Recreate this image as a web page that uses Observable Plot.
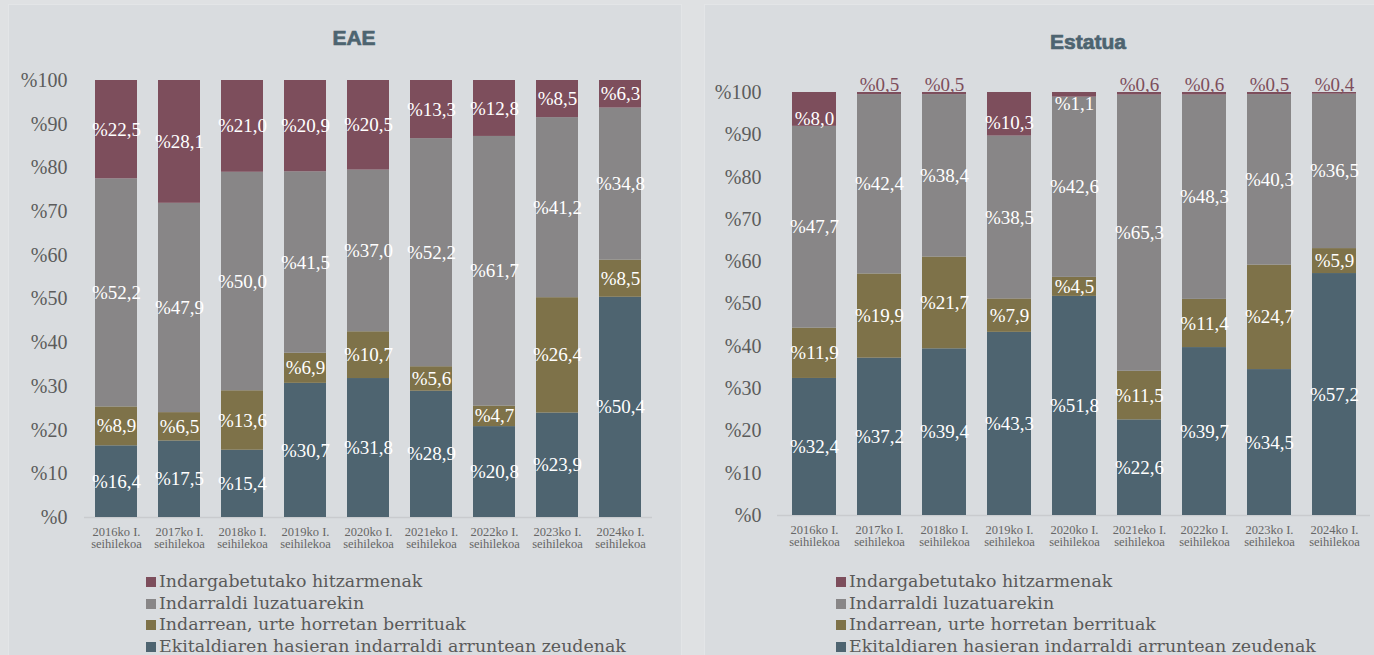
<!DOCTYPE html>
<html>
<head>
<meta charset="utf-8">
<script src="https://cdn.jsdelivr.net/npm/d3@7"></script>
<script src="https://cdn.jsdelivr.net/npm/@observablehq/plot@0.6"></script>
<style>
  html, body { margin: 0; padding: 0; background: #dfe1e3; width: 1374px; height: 655px; overflow: hidden; }
  .panel { position: absolute; background: #d9dcdf; border: 1px solid #e3e5e7; box-sizing: border-box; }
  .title { position: absolute; font-family: "Liberation Sans", Arial, sans-serif; font-weight: bold; font-size: 21px; color: #4d6470; text-align: center; -webkit-text-stroke: 0.7px #4d6470; }
  .chart { position: absolute; top: 0; }
  .legend { position: absolute; font-family: "DejaVu Serif", serif; font-size: 17.4px; color: #5a5a5a; line-height: 21.7px; }
  .legend .row { display: flex; align-items: center; white-space: nowrap; }
  .legend .sw { width: 10px; height: 10px; margin-right: 3px; flex: none; }
</style>
</head>
<body>
<div class="panel" style="left:8px; top:4px; width:674px; height:660px;"></div>
<div class="panel" style="left:704px; top:4px; width:680px; height:660px;"></div>
<div class="title" style="left:254px; top:26px; width:200px;">EAE</div>
<div class="title" style="left:988px; top:30px; width:200px;">Estatua</div>
<div id="left" class="chart" style="left:0px;"></div>
<div id="right" class="chart" style="left:690px;"></div>
<div id="legendLeft" class="legend" style="left:146px; top:571px;"></div>
<div id="legendRight" class="legend" style="left:836px; top:571px;"></div>
<script>
// Categories (x tick labels)
const categories = [
  "2016ko I.\nseihilekoa", "2017ko I.\nseihilekoa", "2018ko I.\nseihilekoa",
  "2019ko I.\nseihilekoa", "2020ko I.\nseihilekoa", "2021eko I.\nseihilekoa",
  "2022ko I.\nseihilekoa", "2023ko I.\nseihilekoa", "2024ko I.\nseihilekoa"
];
// Series (bottom to top)
const series = [
  "Ekitaldiaren hasieran indarraldi arruntean zeudenak",
  "Indarrean, urte horretan berrituak",
  "Indarraldi luzatuarekin",
  "Indargabetutako hitzarmenak"
];
const seriesColors = ["#4e6470", "#7e7249", "#888687", "#7d4e5c"];
const yTicks = [0, 10, 20, 30, 40, 50, 60, 70, 80, 90, 100];

// EAE values
const eaeArrunta    = [16.4, 17.5, 15.4, 30.7, 31.8, 28.9, 20.8, 23.9, 50.4];
const eaeBerrituak  = [8.9, 6.5, 13.6, 6.9, 10.7, 5.6, 4.7, 26.4, 8.5];
const eaeLuzatua    = [52.2, 47.9, 50.0, 41.5, 37.0, 52.2, 61.7, 41.2, 34.8];
const eaeIndargabe  = [22.5, 28.1, 21.0, 20.9, 20.5, 13.3, 12.8, 8.5, 6.3];

// Estatua values
const estArrunta    = [32.4, 37.2, 39.4, 43.3, 51.8, 22.6, 39.7, 34.5, 57.2];
const estBerrituak  = [11.9, 19.9, 21.7, 7.9, 4.5, 11.5, 11.4, 24.7, 5.9];
const estLuzatua    = [47.7, 42.4, 38.4, 38.5, 42.6, 65.3, 48.3, 40.3, 36.5];
const estIndargabe  = [8.0, 0.5, 0.5, 10.3, 1.1, 0.6, 0.6, 0.5, 0.4];

function buildRows(arrays) {
  const rows = [];
  categories.forEach((cat, i) => {
    let acc = 0;
    arrays.forEach((arr, s) => {
      const v = arr[i];
      rows.push({cat, series: series[s], s, value: v, y1: acc, y2: acc + v, mid: acc + v / 2});
      acc += v;
    });
  });
  return rows;
}
const fmt = v => "%" + v.toFixed(1).replace(".", ",");

function chart(arrays, o) {
  const rows = buildRows(arrays);
  const shifted = d => (o.shiftTop && d.s === 3);
  const inside = rows.filter(d => d.value >= 1);
  const above = rows.filter(d => d.value < 1);
  const labelStyle = {fill: "white", fontSize: 19, fontFamily: "Liberation Serif, serif"};
  return Plot.plot({
    width: o.width, height: 560,
    marginLeft: o.ml, marginRight: o.mr, marginTop: o.mt, marginBottom: 560 - o.bottom,
    style: {background: "transparent", fontFamily: "Liberation Serif, serif", overflow: "visible"},
    x: {domain: categories, paddingInner: 0.33, paddingOuter: 0.165, label: null},
    y: {domain: [0, 100], label: null},
    color: {domain: series, range: seriesColors},
    marks: [
      Plot.axisY({ticks: yTicks, tickFormat: d => "%" + d, tickSize: 0, tickPadding: o.ypad, fontSize: 20, color: "#5c5c5c", label: null}),
      Plot.axisX({tickSize: 0, tickPadding: 10, fontSize: 12.5, color: "#666666", label: null, lineHeight: 0.95}),
      Plot.ruleY([0], {stroke: "#c9cbce", strokeWidth: 1.5}),
      Plot.barY(rows, {x: "cat", y1: "y1", y2: "y2", fill: "series"}),
      Plot.text(inside.filter(d => !shifted(d)), {x: "cat", y: "mid", text: d => fmt(d.value), ...labelStyle}),
      Plot.text(inside.filter(d => shifted(d)), {x: "cat", y: "mid", text: d => fmt(d.value), ...labelStyle, dy: 9}),
      Plot.text(above, {x: "cat", y: "y2", text: d => fmt(d.value), ...labelStyle, fill: "#7d4e5c", dy: -8})
    ]
  });
}

document.getElementById("left").appendChild(
  chart([eaeArrunta, eaeBerrituak, eaeLuzatua, eaeIndargabe],
    {width: 690, ml: 84, mr: 38, mt: 80, bottom: 517, ypad: 17, shiftTop: false}));
document.getElementById("right").appendChild(
  chart([estArrunta, estBerrituak, estLuzatua, estIndargabe],
    {width: 684, ml: 87, mr: 4, mt: 92, bottom: 515, ypad: 16, shiftTop: true}));

function legend(id) {
  const el = document.getElementById(id);
  for (let i = series.length - 1; i >= 0; i--) {
    const row = document.createElement("div");
    row.className = "row";
    const sw = document.createElement("span");
    sw.className = "sw";
    sw.style.background = seriesColors[i];
    const t = document.createElement("span");
    t.textContent = series[i];
    row.appendChild(sw); row.appendChild(t);
    el.appendChild(row);
  }
}
legend("legendLeft");
legend("legendRight");
</script>
</body>
</html>
